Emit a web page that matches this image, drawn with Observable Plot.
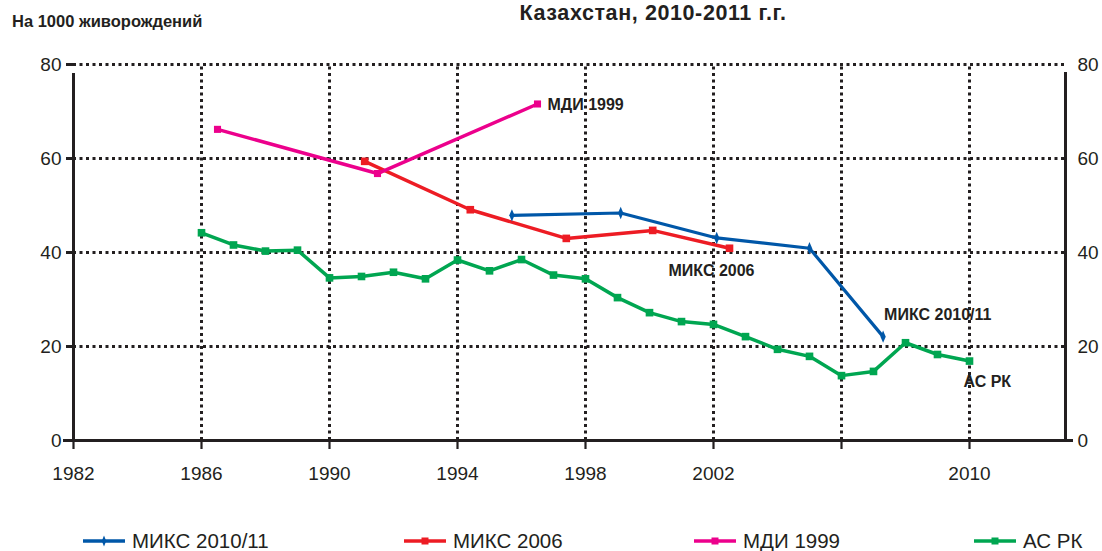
<!DOCTYPE html>
<html>
<head>
<meta charset="utf-8">
<script src="https://cdn.jsdelivr.net/npm/d3@7"></script>
<script src="https://cdn.jsdelivr.net/npm/@observablehq/plot@0.6"></script>
<style>
  html, body { margin: 0; padding: 0; background: #fff; }
  #wrap { position: relative; width: 1102px; height: 551px; overflow: hidden; font-family: "Liberation Sans", Arial, sans-serif; color: #231f20; }
  #wrap svg { position: absolute; left: 0; top: 0; }
  .abs { position: absolute; white-space: nowrap; }
  #title { left: 0; width: 1306px; text-align: center; top: 1px; line-height: 24px; font-weight: bold; font-size: 21.5px; letter-spacing: 0.6px; }
  #ylab { left: 12px; top: 12px; font-weight: bold; font-size: 16.5px; }
  .leg { position: absolute; top: 531px; height: 20px; line-height: 20px; display: flex; align-items: center; font-size: 20.5px; }
  .leg svg { position: static !important; margin-right: 7px; }
</style>
</head>
<body>
<div id="wrap">
  <div id="title" class="abs">Казахстан, 2010-2011 г.г.</div>
  <div id="ylab" class="abs">На 1000 живорождений</div>
</div>
<script>
// ---- data ----
const asrkYears  = [1986,1987,1988,1989,1990,1991,1992,1993,1994,1995,1996,1997,1998,1999,2000,2001,2002,2003,2004,2005,2006,2007,2008,2009,2010];
const asrkValues = [44.2,41.6,40.3,40.5,34.6,34.9,35.8,34.4,38.4,36.1,38.5,35.2,34.4,30.4,27.2,25.3,24.7,22.1,19.4,17.9,13.8,14.7,20.8,18.3,16.9];

const mics2011Years  = [1995.7, 1999.1, 2002.1, 2005.0, 2007.3];
const mics2011Values = [47.9, 48.4, 43.1, 40.9, 22.1];

const mics2006Years  = [1991.1, 1994.4, 1997.4, 2000.1, 2002.5];
const mics2006Values = [59.4, 49.1, 43.0, 44.7, 40.9];

const mdiYears  = [1986.5, 1991.5, 1996.5];
const mdiValues = [66.2, 56.8, 71.6];

const seriesNames = ["МИКС 2010/11", "МИКС 2006", "МДИ 1999", "АС РК"];
const seriesColors = ["#0057a8", "#ed1c24", "#ec008c", "#00a651"];

const xTicks = [1982, 1986, 1990, 1994, 1998, 2002, 2006, 2010];
const xLabelled = [1982, 1986, 1990, 1994, 1998, 2002, 2010];
const yTicks = [0, 20, 40, 60, 80];
const xGrid = [1986, 1990, 1994, 1998, 2002, 2006, 2010];
const yGrid = [20, 40, 60, 80];
const xDomain = [1982, 2013];
const yDomain = [0, 80];

// ---- build tables ----
const zip = (xs, ys) => xs.map((x, i) => ({x, y: ys[i]}));
const mics2011 = zip(mics2011Years, mics2011Values);
const mics2006 = zip(mics2006Years, mics2006Values);
const mdi = zip(mdiYears, mdiValues);
const asrk = zip(asrkYears, asrkValues);

const ink = "#231f20";
const dotted = {stroke: ink, strokeWidth: 3, strokeDasharray: "3,3.5"};

const narrowDiamond = {
  draw(ctx, size) {
    const r = Math.sqrt(size / Math.PI);
    ctx.moveTo(0, -r * 1.3);
    ctx.lineTo(r * 0.55, 0);
    ctx.lineTo(0, r * 1.3);
    ctx.lineTo(-r * 0.55, 0);
    ctx.closePath();
  }
};

const last = a => [a[a.length - 1]];
const labelFont = {fontSize: 16, fontWeight: "bold", fill: ink, fontFamily: "Liberation Sans, Arial, sans-serif"};

const chart = Plot.plot({
  width: 1102,
  height: 551,
  marginLeft: 73,
  marginRight: 37,
  marginTop: 64,
  marginBottom: 111,
  style: {fontFamily: "Liberation Sans, Arial, sans-serif", color: ink, background: "transparent"},
  x: {domain: xDomain},
  y: {domain: yDomain},
  marks: [
    Plot.ruleY(yGrid, {...dotted}),
    Plot.ruleX(xGrid, {...dotted, y1: 0, y2: 80}),
    // axes lines
    Plot.ruleX([xDomain[0]], {y1: 0, y2: 80, stroke: ink, strokeWidth: 3, insetBottom: -9}),
    Plot.ruleX([xDomain[1]], {y1: 0, y2: 80, stroke: ink, strokeWidth: 3, insetBottom: -8}),
    Plot.ruleY([0], {x1: xDomain[0], x2: xDomain[1], stroke: ink, strokeWidth: 3, insetLeft: -10, insetRight: -8}),
    Plot.axisY({ticks: yTicks, tickSize: 7, tickPadding: 5, fontSize: 19, stroke: ink, strokeWidth: 3, fill: ink, label: null}),
    Plot.axisY({anchor: "right", ticks: yTicks, tickSize: 0, tickPadding: 12, fontSize: 19, fill: ink, label: null}),
    Plot.axisX({ticks: xTicks, tickSize: 9, tickPadding: 17, fontSize: 19, stroke: ink, strokeWidth: 2.2, fill: ink, label: null,
      tickFormat: d => xLabelled.includes(d) ? String(d) : ""}),
    // series
    Plot.line(asrk, {x: "x", y: "y", stroke: seriesColors[3], strokeWidth: 3.5}),
    Plot.dot(asrk, {x: "x", y: "y", symbol: "square", r: 4.3, fill: seriesColors[3]}),
    Plot.line(mics2006, {x: "x", y: "y", stroke: seriesColors[1], strokeWidth: 3.5}),
    Plot.dot(mics2006, {x: "x", y: "y", symbol: "square", r: 4.3, fill: seriesColors[1]}),
    Plot.line(mdi, {x: "x", y: "y", stroke: seriesColors[2], strokeWidth: 3.5}),
    Plot.dot(mdi, {x: "x", y: "y", symbol: "square", r: 4, fill: seriesColors[2]}),
    Plot.line(mics2011, {x: "x", y: "y", stroke: seriesColors[0], strokeWidth: 3.2}),
    Plot.dot(mics2011, {x: "x", y: "y", symbol: narrowDiamond, r: 4.8, fill: seriesColors[0]}),
    // series labels next to last points
    Plot.text(last(mdi), {x: "x", y: "y", text: () => seriesNames[2], textAnchor: "start", dx: 10, dy: 1, ...labelFont}),
    Plot.text(last(mics2006), {x: "x", y: "y", text: () => seriesNames[1], textAnchor: "middle", dx: -18, dy: 23, ...labelFont}),
    Plot.text(last(mics2011), {x: "x", y: "y", text: () => seriesNames[0], textAnchor: "start", dx: 1, dy: -22, ...labelFont}),
    Plot.text(last(asrk), {x: "x", y: "y", text: () => seriesNames[3], textAnchor: "start", dx: -6, dy: 21, ...labelFont})
  ]
});

const wrap = document.getElementById("wrap");
wrap.insertBefore(chart, wrap.firstChild);

// legend
const legendX = [83, 404, 694, 974];
const markerFor = (i) => i === 0
  ? `<path d="M21,-5.5 L23.2,0 L21,5.5 L18.8,0 Z" fill="${seriesColors[i]}" transform="translate(0,10)"/>`
  : `<rect x="17.5" y="6.5" width="7" height="7" fill="${seriesColors[i]}"/>`;
seriesNames.forEach((name, i) => {
  const d = document.createElement("div");
  d.className = "leg";
  d.style.left = legendX[i] + "px";
  d.innerHTML = `<svg width="42" height="20"><line x1="0" x2="42" y1="10" y2="10" stroke="${seriesColors[i]}" stroke-width="3.5"/>${markerFor(i)}</svg><span>${name}</span>`;
  wrap.appendChild(d);
});
</script>
</body>
</html>
